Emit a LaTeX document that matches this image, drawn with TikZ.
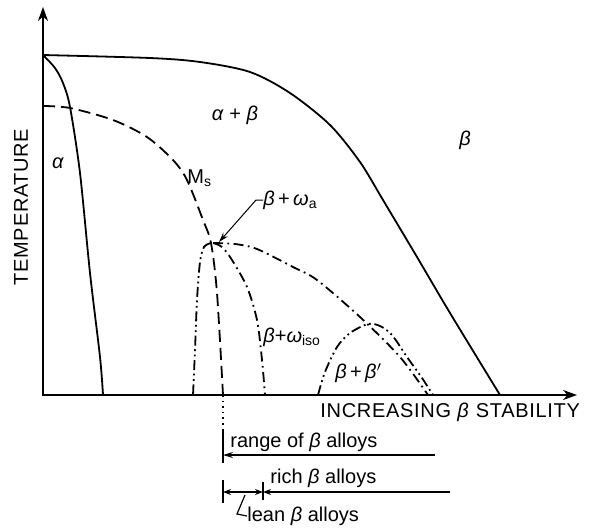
\documentclass[tikz,border=0pt]{standalone}
\usepackage{fontspec}
\setmainfont{Liberation Sans}
\usepackage{tikz}
\usetikzlibrary{positioning}
\usetikzlibrary{arrows.meta}
\newcommand{\galpha}{\textit{α}}
\newcommand{\gbeta}{\textit{β}}
\newcommand{\gomega}{\textit{ω}}

\begin{document}
\begin{tikzpicture}[x=0.5pt,y=-0.5pt,
    phase/.style={line width=0.9pt},
    msline/.style={line width=0.9pt,dash pattern=on 6pt off 3pt},
    dashdot/.style={line width=0.9pt,dash pattern=on 5pt off 2.2pt on 0.9pt off 2.2pt},
    dashdotdot/.style={line width=0.9pt,dash pattern=on 5pt off 1.8pt on 0.9pt off 1.8pt on 0.9pt off 1.8pt},
    lbl/.style={font=\fontsize{10}{12}\selectfont,inner sep=0pt},
    axislbl/.style={font=\fontsize{10}{12}\selectfont\addfontfeature{LetterSpace=3.5},inner sep=0pt},
    rangeline/.style={line width=0.6pt}]
  \useasboundingbox (0,0) rectangle (593,531);
  % axes
  \coordinate (O) at (43,395);
  \coordinate (yend) at (43,7);
  \coordinate (xend) at (577,395);
  \draw[phase,{Stealth[length=7pt,width=5pt]}-{Stealth[length=7pt,width=5pt]}] (yend) -- (O) -- (xend);
  \node[axislbl,rotate=90] (temp) at (21,207) {TEMPERATURE};
  \node[axislbl,anchor=west] (incr) at (320,412) {INCREASING \gbeta\ STABILITY};
  % phase boundaries
  \draw[phase] plot[smooth] coordinates {(43,55) (55,68) (63,83) (70,107) (80,173) (90,273) (100,357) (103,395)};
  \draw[phase] plot[smooth] coordinates {(43,55) (150,58) (200,62) (250,72) (290,93) (330,125) (360,162) (383,200) (417,257) (450,313) (500,395)};
  \draw[msline] plot[smooth] coordinates {(43,106) (70,108) (113,120) (147,137) (173,160) (187,180) (203,220) (211,243) (217,293) (223,395)};
  % omega and beta' lines
  \coordinate (tri) at (211,243);
  \draw[dashdotdot] plot[smooth] coordinates {(211,243) (204,247) (200,262) (197,300) (195,350) (193,395)};
  \draw[dashdot] plot[smooth] coordinates {(213,243) (222,247) (232,260) (247,287) (257,320) (262,360) (265,395)};
  \draw[dashdot] plot[smooth] coordinates {(213,243) (235,244) (257,249) (293,267) (317,280) (360,317) (400,357) (428,395)};
  \draw[dashdotdot] plot[smooth] coordinates {(318,395) (325,372) (337,347) (350,333) (368,324) (380,326) (392,335) (407,357) (422,378) (433,395)};
  % phase fields
  \node[lbl] (alpha) at (58,163) {\galpha};
  \node[lbl] (alphabeta) at (235,115) {\galpha\ + \gbeta};
  \node[lbl] (beta) at (465,140) {\gbeta};
  \node[lbl,anchor=west] (ms) at (187,178) {M\textsubscript{s}};
  \node[lbl,anchor=west] (bwa) at (263,200) {\gbeta\,+\,\gomega\textsubscript{a}};
  \node[lbl,anchor=west] (bwiso) at (263,337) {\gbeta+\gomega\textsubscript{iso}};
  \node[lbl,anchor=west] (bbp) at (335,373) {\gbeta\,+\,\gbeta$'$};
  \coordinate (triR) at (219,242);
  \draw[line width=0.5pt,-{Stealth[length=5pt,width=3pt]}] (bwa.west) -- ++(-7,0) -- (triR);
  % alloy ranges
  \coordinate (msfoot) at (223,395);
  \draw[line width=0.8pt,dotted] (msfoot) -- (223,430);
  \draw[rangeline] (223,430) -- (223,463);
  \draw[rangeline] (223,480) -- (223,503);
  \draw[rangeline] (263,482) -- (263,500);
  \node[lbl,anchor=west] (rangetxt) at (230,442) {range of \gbeta\ alloys};
  \node[lbl,anchor=west] (richtxt) at (270,478) {rich \gbeta\ alloys};
  \node[lbl,anchor=west] (leantxt) at (247,516) {lean \gbeta\ alloys};
  \draw[rangeline,{Stealth[length=5pt,width=3pt]}-] (223,455) -- (435,455);
  \draw[rangeline,{Stealth[length=4pt,width=3pt]}-{Stealth[length=4pt,width=3pt]}] (223,492) -- (263,492);
  \draw[rangeline,{Stealth[length=4pt,width=3pt]}-] (263,492) -- (450,492);
  \draw[rangeline] (leantxt.west) -- ++(-10,-2) -- (245,495);
\end{tikzpicture}
\end{document}
